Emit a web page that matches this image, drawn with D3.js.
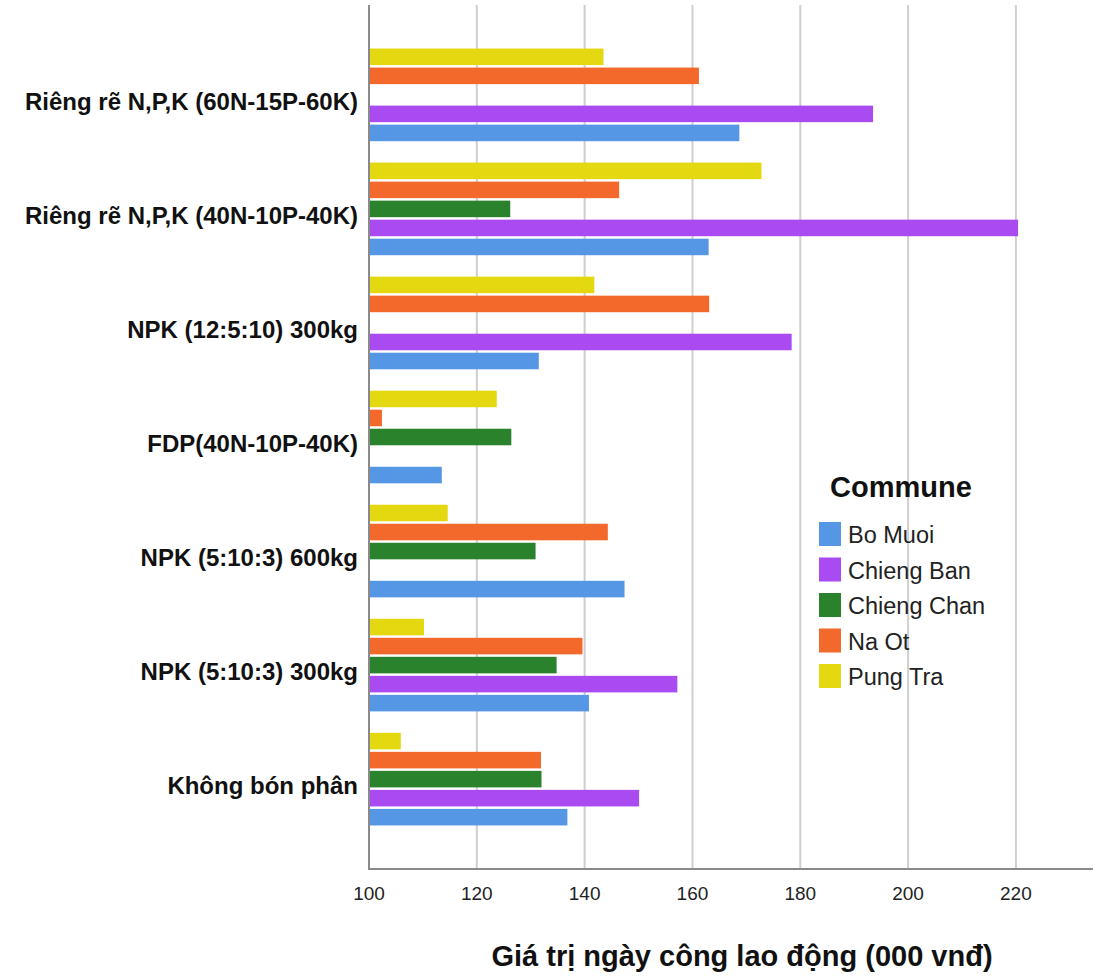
<!DOCTYPE html>
<html lang="en">
<head>
    <meta charset="UTF-8">
    <title>Giá trị ngày công lao động</title>
    <script src="https://cdn.jsdelivr.net/npm/d3@7"></script>
    <style>
        body { margin: 0; background: white; }
        svg { font-family: "Liberation Sans", Arial, sans-serif; }
        .grid line { stroke: #cfcfcf; stroke-width: 2; }
        .cat { font-weight: bold; font-size: 24px; fill: #111; }
        .tick-label { font-size: 19px; fill: #222; }
    </style>
</head>
<body>
<script>
    const width = 1104, height = 977;

    // categories, top to bottom
    const treatments = [
        "Riêng rẽ N,P,K (60N-15P-60K)",
        "Riêng rẽ N,P,K (40N-10P-40K)",
        "NPK (12:5:10) 300kg",
        "FDP(40N-10P-40K)",
        "NPK (5:10:3) 600kg",
        "NPK (5:10:3) 300kg",
        "Không bón phân"
    ];

    const communes = ["Bo Muoi", "Chieng Ban", "Chieng Chan", "Na Ot", "Pung Tra"];
    const colors   = ["#5697e5", "#aa4bf1", "#2a832c", "#f3682b", "#e4d810"];

    // values per commune (000 vnđ), null = no bar
    const boMuoi     = [168.7, 163.0, 131.5, 113.5, 147.4, 140.8, 136.8];
    const chiengBan  = [193.5, 220.4, 178.4, null, null, 157.2, 150.1];
    const chiengChan = [null, 126.2, null, 126.4, 130.9, 134.8, 132.0];
    const naOt       = [161.2, 146.4, 163.1, 102.4, 144.3, 139.6, 131.9];
    const pungTra    = [143.5, 172.8, 141.8, 123.7, 114.6, 110.2, 105.9];

    const xTicks = [100, 120, 140, 160, 180, 200, 220];

    const series = [boMuoi, chiengBan, chiengChan, naOt, pungTra];

    const plotLeft = 369, plotRight = 1093, plotTop = 5, plotBottom = 869;

    const svg = d3.select("body").append("svg")
        .attr("width", width)
        .attr("height", height);

    const x = d3.scaleLinear().domain([100, 234.3]).range([plotLeft, plotRight]);

    const y = d3.scaleBand()
        .domain(treatments)
        .range([plotTop, plotBottom])
        .paddingInner(0.166)
        .paddingOuter(0.371);

    // within a group bars run Pung Tra at top down to Bo Muoi
    const ySub = d3.scaleBand()
        .domain(communes.slice().reverse())
        .range([0, y.bandwidth()])
        .paddingInner(0.13)
        .paddingOuter(0.065);

    // gridlines
    svg.append("g").attr("class", "grid")
        .selectAll("line")
        .data(xTicks.slice(1))
        .join("line")
        .attr("x1", d => x(d)).attr("x2", d => x(d))
        .attr("y1", plotTop).attr("y2", plotBottom);

    // bars
    const rows = [];
    treatments.forEach((t, i) => {
        communes.forEach((c, j) => {
            const v = series[j][i];
            if (v != null) rows.push({ t, c, v, color: colors[j] });
        });
    });

    svg.append("g")
        .selectAll("rect")
        .data(rows)
        .join("rect")
        .attr("x", x(100))
        .attr("y", d => y(d.t) + ySub(d.c))
        .attr("width", d => x(d.v) - x(100))
        .attr("height", ySub.bandwidth())
        .attr("fill", d => d.color);

    // axes lines
    svg.append("line")
        .attr("x1", plotLeft).attr("x2", plotLeft)
        .attr("y1", plotTop).attr("y2", plotBottom)
        .attr("stroke", "#8a8a8a").attr("stroke-width", 2);
    svg.append("line")
        .attr("x1", plotLeft - 1).attr("x2", plotRight)
        .attr("y1", plotBottom).attr("y2", plotBottom)
        .attr("stroke", "#8a8a8a").attr("stroke-width", 2);

    // x tick labels
    svg.append("g")
        .selectAll("text")
        .data(xTicks)
        .join("text")
        .attr("class", "tick-label")
        .attr("x", d => x(d))
        .attr("y", 900)
        .attr("text-anchor", "middle")
        .text(d => d);

    // category labels
    svg.append("g")
        .selectAll("text")
        .data(treatments)
        .join("text")
        .attr("class", "cat")
        .attr("x", 358)
        .attr("y", d => y(d) + y.bandwidth() / 2 + 15)
        .attr("text-anchor", "end")
        .text(d => d);

    // x axis title
    svg.append("text")
        .attr("x", 742)
        .attr("y", 966)
        .attr("text-anchor", "middle")
        .style("font-weight", "bold")
        .style("font-size", "29px")
        .attr("fill", "#111")
        .text("Giá trị ngày công lao động (000 vnđ)");

    // legend
    const legend = svg.append("g");
    legend.append("text")
        .attr("x", 830)
        .attr("y", 497)
        .style("font-weight", "bold")
        .style("font-size", "29px")
        .attr("fill", "#111")
        .text("Commune");

    const item = legend.selectAll("g.item")
        .data(communes)
        .join("g").attr("class", "item")
        .attr("transform", (d, i) => `translate(819, ${522 + i * 35.5})`);
    item.append("rect")
        .attr("width", 22).attr("height", 24)
        .attr("fill", (d, i) => colors[i]);
    item.append("text")
        .attr("x", 29)
        .attr("y", 21)
        .style("font-size", "23.5px")
        .attr("fill", "#222")
        .text(d => d);
</script>
</body>
</html>
